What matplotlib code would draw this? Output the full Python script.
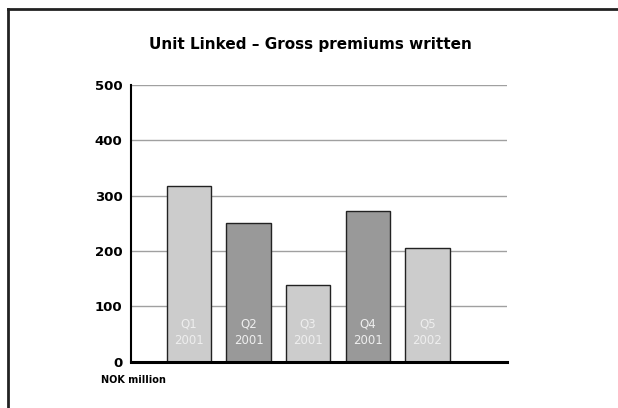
import matplotlib.pyplot as plt
from matplotlib.lines import Line2D

quarters = ['Q1', 'Q2', 'Q3', 'Q4', 'Q5']
years = ['2001', '2001', '2001', '2001', '2002']
premiums = [318, 251, 139, 272, 206]
bar_colors = ['#cccccc', '#999999', '#cccccc', '#999999', '#cccccc']
y_ticks = [0, 100, 200, 300, 400, 500]

fig = plt.figure(figsize=(6.18, 4.08), dpi=100)
ax = fig.add_axes([0.212, 0.1135, 0.608, 0.678])

# Outer frame (top and left only)
fig.add_artist(Line2D([0.013, 1.0], [0.978, 0.978], transform=fig.transFigure, color='#222222', lw=2))
fig.add_artist(Line2D([0.013, 0.013], [0.0, 0.978], transform=fig.transFigure, color='#222222', lw=2))

x = range(len(quarters))
for yv in y_ticks[1:]:
    ax.axhline(yv, color='#a0a0a0', lw=1, zorder=0)
ax.bar(x, premiums, width=0.74, color=bar_colors, edgecolor='#222222', linewidth=1, zorder=2)

for i, (q, yr) in enumerate(zip(quarters, years)):
    ax.text(i, 68, q, ha='center', va='center', color='#eeeeee', fontsize=8.5, zorder=3)
    ax.text(i, 39, yr, ha='center', va='center', color='#eeeeee', fontsize=8.5, zorder=3)

ax.set_xlim(-0.97, 5.33)
ax.set_ylim(0, 500)
ax.set_yticks(y_ticks)
ax.set_yticklabels([str(v) for v in y_ticks], fontsize=9.5, fontweight='semibold')
ax.set_xticks([])
ax.tick_params(axis='y', length=0, pad=6)
for s in ['top', 'right']:
    ax.spines[s].set_visible(False)
ax.spines['left'].set_linewidth(1.5)
ax.spines['bottom'].set_linewidth(2.2)
ax.spines['bottom'].set_zorder(4)

fig.text(0.502, 0.892, 'Unit Linked \u2013 Gross premiums written', ha='center', va='center',
         fontsize=11, fontweight='bold')
fig.text(0.163, 0.068, 'NOK million', ha='left', va='center', fontsize=7, fontweight='bold')

fig.savefig('out.png', dpi=100)
